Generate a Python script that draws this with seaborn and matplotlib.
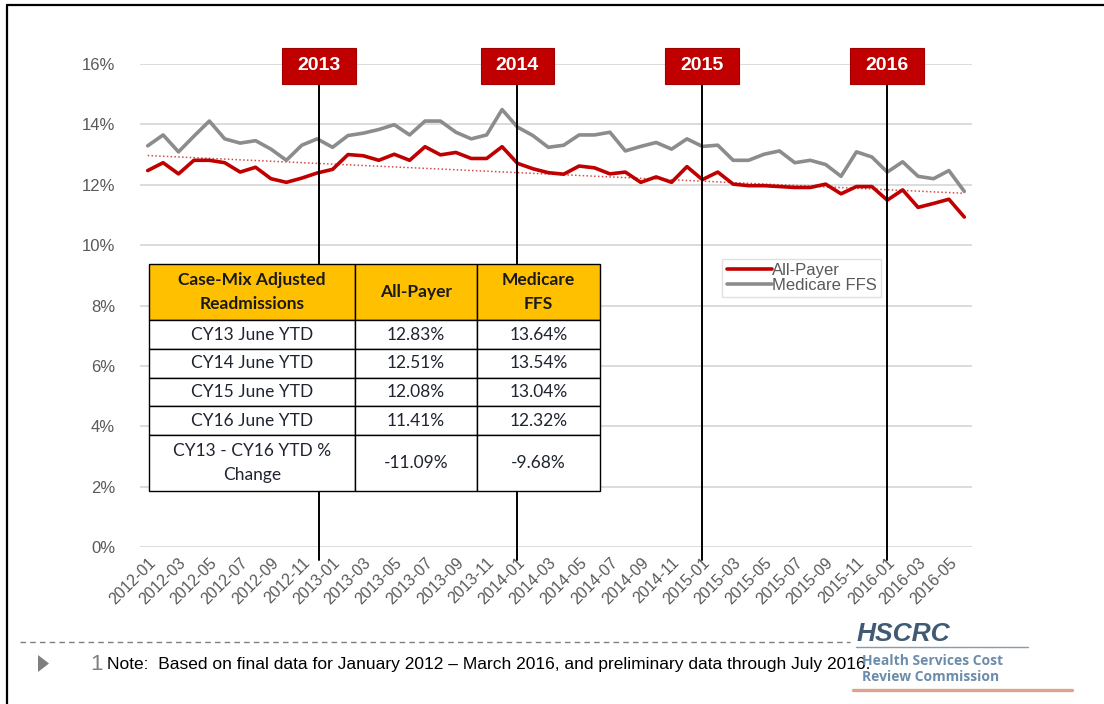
import matplotlib
matplotlib.use("Agg")
import matplotlib.pyplot as plt
from matplotlib.patches import Rectangle, Polygon
from matplotlib.lines import Line2D
import numpy as np
import pandas as pd
import seaborn as sns

# monthly case-mix adjusted readmission rates (%), Jan 2012 - Jun 2016
months = [str(p) for p in pd.period_range("2012-01", "2016-06", freq="M")]
all_payer = [12.47, 12.73, 12.36, 12.81, 12.81, 12.73, 12.42, 12.58, 12.20, 12.08,
             12.22, 12.39, 12.51, 13.00, 12.96, 12.81, 13.01, 12.81, 13.26, 12.99,
             13.07, 12.87, 12.87, 13.26, 12.71, 12.53, 12.40, 12.35, 12.62, 12.56,
             12.36, 12.42, 12.08, 12.26, 12.08, 12.60, 12.17, 12.42, 12.02, 11.97,
             11.97, 11.94, 11.91, 11.91, 12.02, 11.70, 11.94, 11.94, 11.49, 11.83,
             11.25, 11.38, 11.52, 10.93]
medicare_ffs = [13.29, 13.65, 13.09, 13.61, 14.11, 13.52, 13.38, 13.46, 13.18, 12.81,
                13.31, 13.52, 13.24, 13.63, 13.71, 13.83, 13.99, 13.65, 14.11, 14.11,
                13.74, 13.52, 13.65, 14.49, 13.91, 13.63, 13.24, 13.31, 13.65, 13.65,
                13.74, 13.12, 13.27, 13.40, 13.18, 13.52, 13.27, 13.31, 12.81, 12.81,
                13.01, 13.12, 12.73, 12.81, 12.67, 12.28, 13.09, 12.92, 12.42, 12.76,
                12.28, 12.20, 12.47, 11.78]

# year markers (category position of each marker line)
year_labels = ["2013", "2014", "2015", "2016"]
year_pos = [11.1, 24, 36, 48]

# summary table
table_header = ["Case-Mix Adjusted\nReadmissions", "All-Payer", "Medicare\nFFS"]
table_rows = [
    ["CY13 June YTD", "12.83%", "13.64%"],
    ["CY14 June YTD", "12.51%", "13.54%"],
    ["CY15 June YTD", "12.08%", "13.04%"],
    ["CY16 June YTD", "11.41%", "12.32%"],
    ["CY13 - CY16 YTD %\nChange", "-11.09%", "-9.68%"],
]

note = "Note:  Based on final data for January 2012 \u2013 March 2016, and preliminary data through July 2016."

RED = "#C00000"
GRAY = "#8C8C8C"

df = pd.DataFrame({
    "idx": list(range(len(months))) * 2,
    "rate": all_payer + medicare_ffs,
    "series": ["All-Payer"] * len(months) + ["Medicare FFS"] * len(months),
})

sns.set_style("white")
plt.rcParams["font.family"] = ["Liberation Sans", "DejaVu Sans"]

fig = plt.figure(figsize=(11.04, 7.04), dpi=100)
ax = fig.add_axes([140 / 1104, 157 / 704, 832 / 1104, 483 / 704])

sns.lineplot(data=df, x="idx", y="rate", hue="series",
             palette={"All-Payer": RED, "Medicare FFS": GRAY},
             linewidth=2.6, ax=ax)

# linear trend of the all-payer series
xs = np.arange(len(months))
coef = np.polyfit(xs, all_payer, 1)
ax.plot(xs, np.polyval(coef, xs), color=RED, lw=1.1, ls=(0, (1, 1.5)), alpha=0.7, zorder=1)

ax.set_xlim(-0.5, len(months) - 0.5)
ax.set_ylim(0, 16)
ax.set_yticks(np.arange(0, 17, 2))
ax.set_yticklabels([f"{v}%" for v in range(0, 17, 2)])
ax.set_xticks(xs[::2])
ax.set_xticklabels(months[::2], rotation=45, ha="right", rotation_mode="anchor")
ax.tick_params(axis="y", length=0, pad=18, labelsize=12, labelcolor="#595959")
ax.tick_params(axis="x", length=0, pad=6, labelsize=11.5, labelcolor="#595959")
ax.set_xlabel("")
ax.set_ylabel("")
ax.grid(axis="y", color="#D9D9D9", lw=1.3)
ax.grid(axis="x", visible=False)
for s in ax.spines.values():
    s.set_visible(False)

leg = ax.legend(loc="upper left", bbox_to_anchor=(0.70, 0.597), frameon=True,
                fancybox=False, fontsize=12, handlelength=2.7, handletextpad=0.05,
                labelspacing=0.0, borderpad=0.25, borderaxespad=0)
leg.get_frame().set_edgecolor("#D9D9D9")
leg.get_frame().set_linewidth(1.0)
for t in leg.get_texts():
    t.set_color("#595959")
for h in leg.get_lines():
    h.set_linewidth(2.6)

# year marker lines and boxes
xt = ax.get_xaxis_transform()
for lab, xp in zip(year_labels, year_pos):
    ax.plot([xp, xp], [-0.027, 0.96], color="black", lw=1.4, transform=xt,
            clip_on=False, zorder=2)
    ax.add_patch(Rectangle((xp - 2.4, 0.9586), 4.8, 0.0745, transform=xt,
                           facecolor=RED, edgecolor="#A00000", lw=0.8,
                           clip_on=False, zorder=5))
    ax.text(xp, 0.996, lab, transform=xt, ha="center", va="center", color="white",
            fontsize=14, fontweight="bold", zorder=6, clip_on=False)

# summary table
tbl = ax.table(cellText=table_rows, colLabels=table_header, cellLoc="center",
               colWidths=[206, 122, 123], bbox=[9 / 832, 56 / 483, 451 / 832, 227 / 483])
tbl.auto_set_font_size(False)
row_h = [56, 29, 29, 28, 29, 56]
for (r, c), cell in tbl.get_celld().items():
    cell.set_height(row_h[r])
    cell.set_edgecolor("black")
    cell.set_linewidth(1.0)
    cell.get_text().set_fontfamily(["Lato", "DejaVu Sans"])
    cell.get_text().set_fontsize(12.5)
    cell.get_text().set_linespacing(1.6)
    if r == 0:
        cell.set_facecolor("#FFC000")
        cell.get_text().set_fontweight("bold")
        cell.get_text().set_color("#1A1A1A")
    else:
        cell.set_facecolor("white")
        cell.get_text().set_color("#1F2430")
tbl.set_zorder(7)

# page frame
fig.add_artist(Line2D([7 / 1104, 1], [1 - 5 / 704, 1 - 5 / 704], color="black", lw=1.6))
fig.add_artist(Line2D([7 / 1104, 7 / 1104], [0, 1 - 5 / 704], color="black", lw=1.6))

# footer
fig.add_artist(Line2D([20 / 1104, 850 / 1104], [1 - 642 / 704, 1 - 642 / 704],
                      color="#7F7F7F", lw=1.0, ls=(0, (4, 3))))
fig.add_artist(Polygon([[38 / 1104, 1 - 655 / 704], [38 / 1104, 1 - 672 / 704],
                        [49 / 1104, 1 - 663.5 / 704]], closed=True,
                       facecolor="#7F7F7F", edgecolor="none"))
fig.text(90 / 1104, 1 - 665 / 704, "1", fontsize=16, color="#7F7F7F", va="center")
fig.text(107 / 1104, 1 - 664 / 704, note, fontsize=12.5, color="black", va="center",
         family=["Liberation Sans Narrow", "Liberation Sans"])

# HSCRC logo
fig.text(857 / 1104, 1 - 634 / 704, "HSCRC", fontsize=19, fontweight="bold",
         style="italic", color="#3F5B74", va="center")
fig.add_artist(Line2D([856 / 1104, 1028 / 1104], [1 - 647 / 704, 1 - 647 / 704],
                      color="#8A9AA8", lw=1.0))
fig.text(862 / 1104, 1 - 661 / 704, "Health Services Cost", fontsize=10,
         fontweight="bold", color="#6C8CAB", va="center", family=["Open Sans", "DejaVu Sans"])
fig.text(862 / 1104, 1 - 677 / 704, "Review Commission", fontsize=10,
         fontweight="bold", color="#6C8CAB", va="center", family=["Open Sans", "DejaVu Sans"])
fig.add_artist(Line2D([853 / 1104, 1072 / 1104], [1 - 690 / 704, 1 - 690 / 704],
                      color="#DFA28E", lw=2.4))

fig.savefig("out.png", dpi=100)
